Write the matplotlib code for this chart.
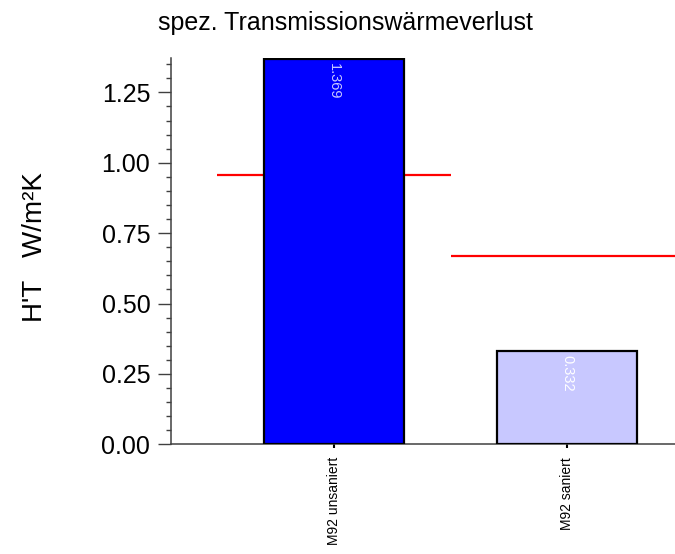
import numpy as np
import matplotlib.pyplot as plt
from matplotlib.ticker import MultipleLocator

plt.rcParams['font.family'] = ['Liberation Sans', 'DejaVu Sans']

# Data
categories = ['M92 unsaniert', 'M92 saniert']
values = [1.369, 0.332]
bar_colors = ['#0000ff', '#c8c8ff']
label_colors = ['#c8c8ff', '#ffffff']
limits = [0.956, 0.670]   # red reference lines per category

fig = plt.figure(figsize=(6.75, 5.54), dpi=100)
ax = fig.add_axes([0.2526, 0.198, 0.830, 0.6968])

x = np.arange(len(categories))
ax.bar(x, values, width=0.6, color=bar_colors, edgecolor='black',
       linewidth=1.6, zorder=3)

# red limit lines, one per category slot
for xi, lim in zip(x, limits):
    ax.hlines(lim, xi - 0.5, xi + 0.5, color='red', linewidth=1.6, zorder=2)

# value labels inside the bars, rotated
for xi, v, c in zip(x, values, label_colors):
    ax.text(xi, v - 0.015, f'{v:.3f}', rotation=270, ha='center', va='top',
            color=c, fontsize=10.5, zorder=4)

ax.set_xlim(-0.7, 1.7)
ax.set_ylim(0, 1.371)
ax.set_xticks(x)
ax.set_xticklabels(categories, rotation=90, fontsize=10)
ax.yaxis.set_major_locator(MultipleLocator(0.25))
ax.yaxis.set_minor_locator(MultipleLocator(0.05))
ax.yaxis.set_major_formatter(plt.FormatStrFormatter('%.2f'))
ax.tick_params(axis='y', which='major', length=9.5, width=1, color='#404040',
               labelsize=18, pad=5)
ax.tick_params(axis='y', which='minor', length=3.5, width=1, color='#404040')
ax.tick_params(axis='x', length=3, width=1.5, color='black', pad=6)

for side in ['top', 'right']:
    ax.spines[side].set_visible(False)
for side in ['left', 'bottom']:
    ax.spines[side].set_color('#404040')
    ax.spines[side].set_linewidth(1.1)

fig.text(0.052, 1 - 247 / 554, "H'T   W/m²K", rotation=90, ha='center',
         va='center', fontsize=20)
fig.text(345 / 675, 1 - 23 / 554, 'spez. Transmissionswärmeverlust',
         ha='center', va='center', fontsize=18)

fig.savefig('out.png', dpi=100)
